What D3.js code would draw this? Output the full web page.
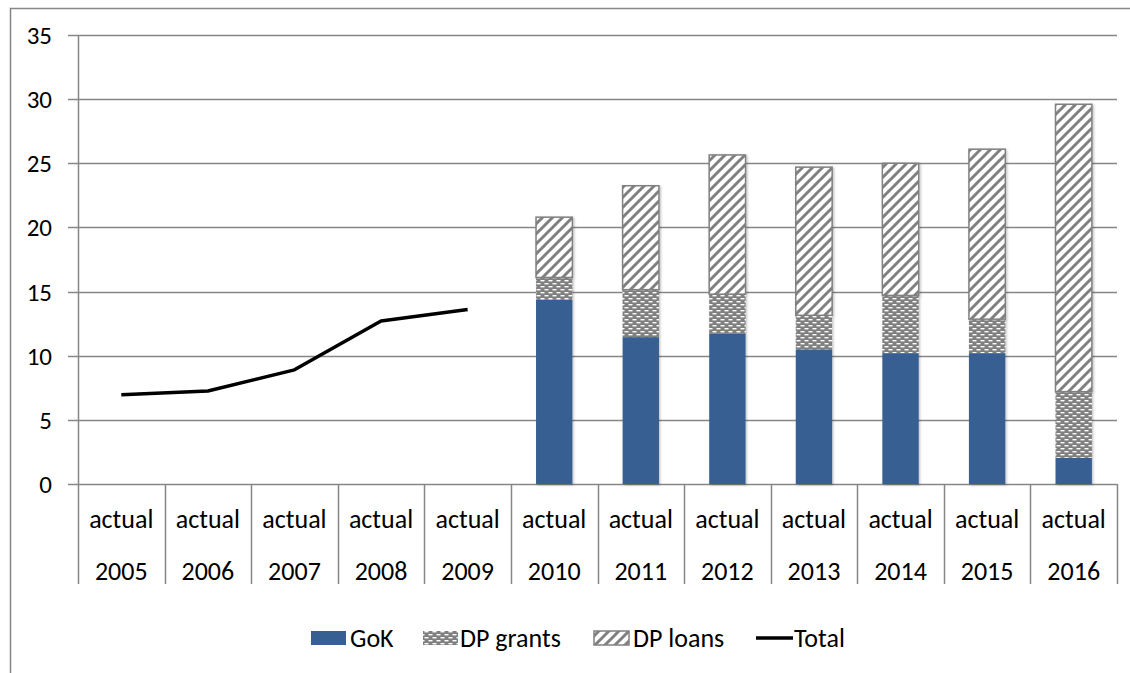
<!DOCTYPE html>
<html>
<head>
<meta charset="utf-8">
<script src="https://cdn.jsdelivr.net/npm/d3@7"></script>
<style>
  html, body { margin: 0; padding: 0; background: #fff; }
  svg { display: block; }
  text { font-family: Carlito, Calibri, Lato, "Noto Sans", sans-serif; fill: #000; }
</style>
</head>
<body>
<svg id="chart" width="1130" height="673"></svg>
<script>
// Spending by source of funds, KSh billions
const years = ["2005", "2006", "2007", "2008", "2009", "2010", "2011", "2012", "2013", "2014", "2015", "2016"];
const periodLabels = ["actual", "actual", "actual", "actual", "actual", "actual", "actual", "actual", "actual", "actual", "actual", "actual"];

// stacked components (2010 onward)
const barYears = ["2010", "2011", "2012", "2013", "2014", "2015", "2016"];
const gok      = [14.35, 11.45, 11.7, 10.5, 10.2, 10.2, 2.05];
const dpGrants = [1.75, 3.7, 3.1, 2.65, 4.5, 2.65, 5.15];
const dpLoans  = [4.7, 8.1, 10.85, 11.55, 10.3, 13.25, 22.4];

// total only (2005-2009)
const lineYears = ["2005", "2006", "2007", "2008", "2009"];
const total     = [6.95, 7.25, 8.9, 12.7, 13.6];

const yTicks = [0, 5, 10, 15, 20, 25, 30, 35];
const seriesNames = ["GoK", "DP grants", "DP loans"];

const svg = d3.select("#chart");
const grid = "#868686";
const blue = "#375f91";
const hatch = "#808080";
const fontSize = 26;

// patterns
const defs = svg.append("defs");
const pg = defs.append("pattern").attr("id", "pat-grants")
  .attr("patternUnits", "userSpaceOnUse").attr("width", 8).attr("height", 6);
pg.append("rect").attr("width", 8).attr("height", 6).attr("fill", hatch);
pg.append("rect").attr("x", 0.5).attr("y", 1).attr("width", 4).attr("height", 1.4).attr("fill", "#fff");
pg.append("rect").attr("x", 4.5).attr("y", 4).attr("width", 4).attr("height", 1.4).attr("fill", "#fff");
pg.append("rect").attr("x", -3.5).attr("y", 4).attr("width", 4).attr("height", 1.4).attr("fill", "#fff");

const pl = defs.append("pattern").attr("id", "pat-loans")
  .attr("patternUnits", "userSpaceOnUse").attr("width", 10).attr("height", 10);
pl.append("rect").attr("width", 10).attr("height", 10).attr("fill", "#fff");
pl.append("path").attr("d", "M-2,2 L2,-2 M0,10 L10,0 M8,12 L12,8")
  .attr("stroke", hatch).attr("stroke-width", 3);

const fills = { "GoK": blue, "DP grants": "url(#pat-grants)", "DP loans": "url(#pat-loans)" };

// chart-area frame
svg.append("rect").attr("x", 10.5).attr("y", 8.5).attr("width", 1140).attr("height", 700)
  .attr("fill", "none").attr("stroke", grid).attr("stroke-width", 1.5);

const plotLeft = 78, plotRight = 1117, plotTop = 35, plotBottom = 484, axisBottom = 584;

const x = d3.scaleBand().domain(years).range([plotLeft, plotRight]).paddingInner(0.58).paddingOuter(0.29);
const y = d3.scaleLinear().domain([0, 35]).range([plotBottom, plotTop]);

// horizontal gridlines
svg.append("g").selectAll("line").data(yTicks).join("line")
  .attr("x1", plotLeft - 10).attr("x2", plotRight)
  .attr("y1", d => Math.round(y(d)) + 0.5).attr("y2", d => Math.round(y(d)) + 0.5)
  .attr("stroke", grid).attr("stroke-width", 1.5);

// y tick labels
svg.append("g").selectAll("text").data(yTicks).join("text")
  .attr("x", 52).attr("y", d => y(d)).attr("dy", "0.36em")
  .attr("text-anchor", "end").attr("font-size", fontSize - 1).text(d => d);

// y axis line
svg.append("line").attr("x1", plotLeft + 0.5).attr("x2", plotLeft + 0.5)
  .attr("y1", plotTop).attr("y2", axisBottom).attr("stroke", grid).attr("stroke-width", 1.5);

// category separators
const step = x.step();
const bounds = years.map((d, i) => plotLeft + step * (i + 1));
svg.append("g").selectAll("line").data(bounds).join("line")
  .attr("x1", d => Math.round(d) + 0.5).attr("x2", d => Math.round(d) + 0.5)
  .attr("y1", plotBottom).attr("y2", axisBottom).attr("stroke", grid).attr("stroke-width", 1.5);

// two-level category labels
const cx = d => x(d) + x.bandwidth() / 2;
svg.append("g").selectAll("text").data(years).join("text")
  .attr("x", cx).attr("y", 519).attr("dy", "0.36em").attr("text-anchor", "middle")
  .attr("font-size", fontSize).text((d, i) => periodLabels[i]);
svg.append("g").selectAll("text").data(years).join("text")
  .attr("x", cx).attr("y", 571).attr("dy", "0.36em").attr("text-anchor", "middle")
  .attr("font-size", fontSize).text(d => d);

// stacked bars
const rows = barYears.map((yr, i) => ({ year: yr, "GoK": gok[i], "DP grants": dpGrants[i], "DP loans": dpLoans[i] }));
const stacked = d3.stack().keys(seriesNames)(rows);
const shadow = defs.append("filter").attr("id", "soft").attr("x", "-20%").attr("y", "-5%").attr("width", "140%").attr("height", "110%");
shadow.append("feDropShadow").attr("dx", 1.2).attr("dy", 1.2).attr("stdDeviation", 1.2).attr("flood-color", "#000").attr("flood-opacity", 0.25);

const barsG = svg.append("g").attr("filter", "url(#soft)");
stacked.forEach(s => {
  barsG.append("g").selectAll("rect").data(s).join("rect")
    .attr("x", d => x(d.data.year))
    .attr("width", x.bandwidth())
    .attr("y", d => y(d[1]))
    .attr("height", d => y(d[0]) - y(d[1]))
    .attr("fill", fills[s.key])
    .attr("stroke", s.key === "DP loans" ? hatch : "none")
    .attr("stroke-width", 1.5);
});

// total line
const linePts = lineYears.map((yr, i) => [cx(yr), y(total[i])]);
svg.append("path").attr("d", d3.line()(linePts))
  .attr("fill", "none").attr("stroke", "#000").attr("stroke-width", 3.5)
  .attr("stroke-linejoin", "round");

// legend
const lg = svg.append("g");
const ly = 638;
const legendItems = [
  { name: "GoK", sx: 311, tx: 350, kind: "rect", fill: blue },
  { name: "DP grants", sx: 423, tx: 460, kind: "rect", fill: "url(#pat-grants)" },
  { name: "DP loans", sx: 594, tx: 633, kind: "rect", fill: "url(#pat-loans)", stroke: hatch },
  { name: "Total", sx: 756, tx: 794, kind: "line" }
];
legendItems.forEach(it => {
  if (it.kind === "rect") {
    lg.append("rect").attr("x", it.sx).attr("y", ly - 7).attr("width", 35).attr("height", 14)
      .attr("fill", it.fill).attr("stroke", it.stroke || "none").attr("stroke-width", 1.5);
  } else {
    lg.append("line").attr("x1", it.sx).attr("x2", it.sx + 37).attr("y1", ly).attr("y2", ly)
      .attr("stroke", "#000").attr("stroke-width", 3.5);
  }
  lg.append("text").attr("x", it.tx).attr("y", ly).attr("dy", "0.36em")
    .attr("font-size", fontSize).text(it.name);
});
</script>
</body>
</html>
